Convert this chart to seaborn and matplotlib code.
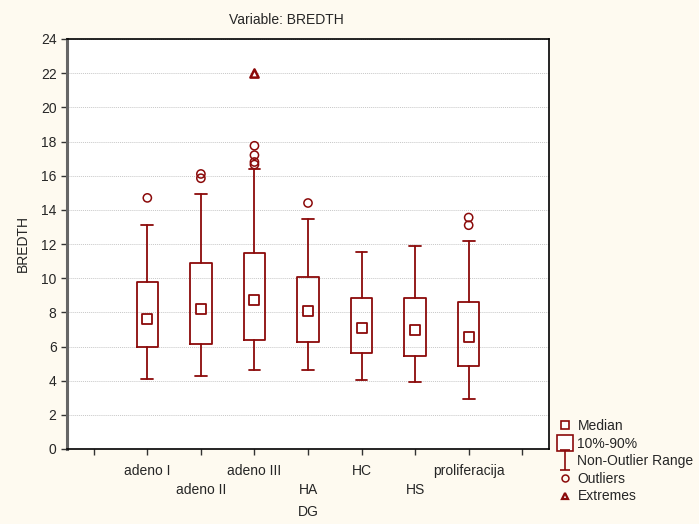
import matplotlib
matplotlib.use("Agg")
import matplotlib.pyplot as plt
import seaborn as sns
import pandas as pd
from matplotlib.lines import Line2D
from matplotlib.path import Path

# summary statistics
categories = ["adeno I", "adeno II", "adeno III", "HA", "HC", "HS", "proliferacija"]
median = [7.6, 8.2, 8.75, 8.1, 7.1, 6.95, 6.55]
p10 = [5.95, 6.15, 6.4, 6.25, 5.6, 5.45, 4.85]
p90 = [9.75, 10.9, 11.5, 10.05, 8.85, 8.85, 8.6]
range_min = [4.1, 4.25, 4.65, 4.6, 4.05, 3.95, 2.9]
range_max = [13.1, 14.95, 16.4, 13.45, 11.55, 11.9, 12.15]
outlier_group = ["adeno I", "adeno II", "adeno II", "adeno III", "adeno III",
                 "adeno III", "adeno III", "HA", "proliferacija", "proliferacija"]
outlier_value = [14.7, 16.1, 15.85, 17.75, 17.2, 16.8, 16.65, 14.4, 13.55, 13.1]
extreme_group = ["adeno III"]
extreme_value = [22.0]

RED = "#8B0A0A"
BG = "#FEFAF0"

sns.set_style("white")
plt.rcParams["font.family"] = ["Liberation Sans", "DejaVu Sans"]

fig = plt.figure(figsize=(6.99, 5.24), dpi=100, facecolor=BG)
ax = fig.add_axes([67 / 699, 75 / 524, 482 / 699, 410 / 524])
ax.set_facecolor("white")

pos = {c: i + 1 for i, c in enumerate(categories)}
stats = []
for i, c in enumerate(categories):
    stats.append(dict(med=median[i], q1=p10[i], q3=p90[i],
                      whislo=range_min[i], whishi=range_max[i], fliers=[]))
ax.bxp(stats, positions=[pos[c] for c in categories], widths=0.4,
       capwidths=0.22, showfliers=False, patch_artist=False,
       boxprops=dict(color=RED, linewidth=1.3),
       whiskerprops=dict(color=RED, linewidth=1.3),
       capprops=dict(color=RED, linewidth=1.3),
       medianprops=dict(linewidth=0))

med_df = pd.DataFrame({"x": [pos[c] for c in categories], "y": median})
sns.scatterplot(data=med_df, x="x", y="y", marker="s", s=45, facecolor="white",
                edgecolor=RED, linewidth=1.3, ax=ax, zorder=5)
out_df = pd.DataFrame({"x": [pos[c] for c in outlier_group], "y": outlier_value})
sns.scatterplot(data=out_df, x="x", y="y", marker="o", s=35, facecolor="none",
                edgecolor=RED, linewidth=1.1, ax=ax, zorder=5)
ext_df = pd.DataFrame({"x": [pos[c] for c in extreme_group], "y": extreme_value})
sns.scatterplot(data=ext_df, x="x", y="y", marker="^", s=35, facecolor="white",
                edgecolor=RED, linewidth=1.8, ax=ax, zorder=5)

ax.set_xlim(-0.5, 8.5)
ax.set_ylim(0, 24)
ax.set_yticks(range(0, 25, 2))
ax.set_xticks(range(9))
labels = [""] + [c if i % 2 == 0 else "\n" + c for i, c in enumerate(categories)] + [""]
ax.set_xticklabels(labels, fontsize=10, linespacing=1.4)
ax.tick_params(axis="y", labelsize=10, length=4, width=1, direction="out", left=True, color="#333333")
ax.tick_params(axis="x", length=4, width=1, direction="out", bottom=True, color="#333333", pad=7)
ax.yaxis.grid(True, linestyle=(0, (1, 1)), color="#C8C8C8", linewidth=0.7)
ax.xaxis.grid(False)
ax.set_axisbelow(True)
for s in ["top", "right", "bottom"]:
    ax.spines[s].set_color("black")
    ax.spines[s].set_linewidth(1.2)
ax.spines["left"].set_color("#666666")
ax.spines["left"].set_linewidth(2.2)
ax.set_xlabel("DG", fontsize=10, labelpad=6)
ax.set_ylabel("BREDTH", fontsize=10, labelpad=8)

fig.text(286 / 699, 1 - 20 / 524, "Variable: BREDTH", fontsize=10, ha="center", va="center")

ibeam = Path([(-0.5, 1), (0.5, 1), (0, 1), (0, -1), (-0.5, -1), (0.5, -1)],
             [Path.MOVETO, Path.LINETO, Path.MOVETO, Path.LINETO, Path.MOVETO, Path.LINETO])
handles = [
    Line2D([], [], linestyle="none", marker="s", markersize=6, markerfacecolor="white",
           markeredgecolor=RED, markeredgewidth=1.2),
    Line2D([], [], linestyle="none", marker="s", markersize=12, markerfacecolor="white",
           markeredgecolor=RED, markeredgewidth=1.2),
    Line2D([], [], linestyle="none", marker=ibeam, markersize=14, color=RED,
           markeredgewidth=1.2),
    Line2D([], [], linestyle="none", marker="o", markersize=5, markerfacecolor="none",
           markeredgecolor=RED, markeredgewidth=1.1),
    Line2D([], [], linestyle="none", marker="^", markersize=5, markerfacecolor="white",
           markeredgecolor=RED, markeredgewidth=1.6),
]
leg_labels = ["Median", "10%-90%", "Non-Outlier Range", "Outliers", "Extremes"]
fig.legend(handles, leg_labels, loc="upper left", bbox_to_anchor=(558 / 699, 1 - 419 / 524),
           frameon=False, fontsize=10, handlelength=1.0, handletextpad=0.4,
           labelspacing=0.26, borderaxespad=0, borderpad=0)

fig.savefig("out.png", dpi=100, facecolor=BG)
